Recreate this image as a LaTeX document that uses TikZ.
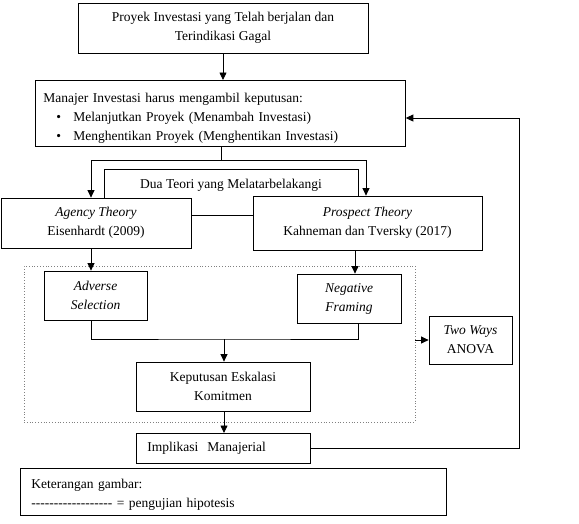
\documentclass[tikz,border=0pt]{standalone}
\usepackage{fontspec}
\setmainfont{Liberation Serif}[Ligatures=TeXOff]
\usepackage{tikz}
\usetikzlibrary{arrows.meta}
\usetikzlibrary{calc}
\tikzset{
 box/.style={draw, line width=.8pt, fill=white, inner sep=0pt, align=center, font=\fontsize{13.5}{19}\selectfont},
 leftbox/.style={box, anchor=north west, align=left, inner xsep=11pt},
 link/.style={line width=.8pt, -{Triangle[length=7.5pt,width=7pt]}}
}
\tikzstyle{plain}=[line width=.8pt]
\tikzstyle{dotbox}=[draw=gray, dotted, line width=.8pt, inner sep=0pt]

\begin{document}
\begin{tikzpicture}[x=1pt, y=-1pt]
 \useasboundingbox (0,0) rectangle (579,523);
%
 \node[box, minimum width=290, minimum height=50] (proyek) at (223,28) {Proyek Investasi yang Telah berjalan dan\\Terindikasi Gagal};
 \node[leftbox, inner xsep=8pt, text width=354, minimum height=66] (manajer) at (35,80) {\rule{0pt}{20pt}Manajer Investasi harus mengambil keputusan:\\\hspace*{13pt}\makebox[17pt][l]{\textbullet}Melanjutkan Proyek (Menambah Investasi)\\\hspace*{13pt}\makebox[17pt][l]{\textbullet}Menghentikan Proyek (Menghentikan Investasi)};
%
 \node[box, anchor=north, minimum width=254, text height=13pt, text depth=21pt, inner ysep=6pt] (dua) at (231,169) {Dua Teori yang Melatarbelakangi};
 \node[box, minimum width=190, minimum height=50] (agency) at (96,223) {\textit{Agency Theory}\\Eisenhardt (2009)};
 \node[box, minimum width=229, minimum height=54] (prospect) at (367.5,223) {\textit{Prospect Theory}\\Kahneman dan Tversky (2017)};
%
 \node[dotbox, minimum width=391, minimum height=156] (hyp) at (219.5,344) {};
 \node[box, minimum width=103, minimum height=49] (adverse) at (95.5,295.5) {\textit{Adverse}\\\textit{Selection}};
 \node[box, minimum width=104, minimum height=49] (negative) at (349,298.5) {\textit{Negative}\\\textit{Framing}};
 \node[box, minimum width=174, minimum height=49] (keputusan) at (223,386.5) {Keputusan Eskalasi\\Komitmen};
 \node[leftbox, text width=152, minimum height=30] (implikasi) at (136,433) {Implikasi\ \ Manajerial};
 \node[box, minimum width=83, minimum height=48] (twoways) at (470.5,340) {\textit{Two Ways}\\ANOVA};
 \node[leftbox, text width=404, minimum height=47] (ket) at (20,468) {\rule{0pt}{16pt}Keterangan gambar:\\------------------ = pengujian hipotesis};
%
 \coordinate (split) at (221,160);
 \coordinate (sl) at (91,160);
 \coordinate (sr) at (366,160);
 \coordinate (join) at (224,339);
 \coordinate (back) at (519,118);
%
 \draw[link] (proyek.south) -- (proyek.south |- manajer.north);
 \draw[plain] (split |- manajer.south) -- (split);
 \draw[link] (split) -- (sl) -- (sl |- agency.north);
 \draw[link] (split) -- (sr) -- (sr |- prospect.north);
 \draw[link] ([xshift=-4.5pt]adverse.north |- agency.south) -- ([xshift=-4.5pt]adverse.north);
 \draw[link] ([xshift=6pt]negative.north |- prospect.south) -- ([xshift=6pt]negative.north);
 \draw[plain] ([xshift=-4.5pt]adverse.south) |- (join) -| ([xshift=9pt]negative.south);
 \draw[link] (join) -- (keputusan.north -| join);
 \draw[link] (keputusan.south -| join) -- (implikasi.north -| join);
 \draw[link] (implikasi.east) -| (back) -- (back -| manajer.east);
 \draw[link] (hyp.east |- twoways.west) -- (twoways.west);
\end{tikzpicture}
\end{document}
